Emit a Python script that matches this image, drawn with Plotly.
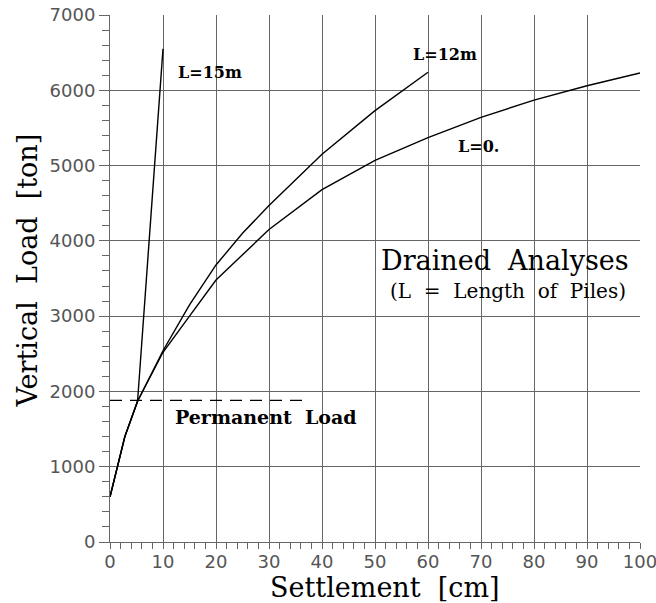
import plotly.graph_objects as go

# Data
l15_x = [0, 2.8, 5.2, 10]
l15_y = [600, 1400, 1870, 6550]

l12_x = [0, 2.8, 5.2, 10, 15, 20, 25, 30, 40, 50, 60]
l12_y = [600, 1400, 1870, 2540, 3150, 3680, 4100, 4470, 5150, 5730, 6240]

l0_x = [0, 2.8, 5.2, 10, 15, 20, 30, 40, 50, 60, 70, 80, 90, 100]
l0_y = [600, 1400, 1870, 2520, 3000, 3480, 4150, 4680, 5070, 5370, 5640, 5870, 6060, 6230]

perm_x = [0, 37.2]
perm_y = [1880, 1880]

x_ticks = list(range(0, 101, 10))
y_ticks = list(range(0, 7001, 1000))

serif = "DejaVu Serif"
line_style = dict(color="black", width=1.4)

fig = go.Figure()
fig.add_trace(go.Scatter(x=l15_x, y=l15_y, mode="lines", line=line_style, showlegend=False))
fig.add_trace(go.Scatter(x=l12_x, y=l12_y, mode="lines", line=line_style, showlegend=False))
fig.add_trace(go.Scatter(x=l0_x, y=l0_y, mode="lines", line=line_style, showlegend=False))
fig.add_trace(go.Scatter(x=perm_x, y=perm_y, mode="lines",
                         line=dict(color="black", width=1.2, dash="12px,8px"), showlegend=False))

annots = [
    dict(x=12.5, y=6240, text="<b>L=15m</b>", xanchor="left", size=16),
    dict(x=56.8, y=6470, text="<b>L=12m</b>", xanchor="left", size=16),
    dict(x=65.3, y=5250, text="<b>L=0.</b>", xanchor="left", size=16),
    dict(x=74.5, y=3745, text="Drained  Analyses", xanchor="center", size=27),
    dict(x=75.0, y=3330, text="(L  =  Length  of  Piles)", xanchor="center", size=20),
    dict(x=29.5, y=1660, text="<b>Permanent  Load</b>", xanchor="center", size=19),
]
for a in annots:
    fig.add_annotation(x=a["x"], y=a["y"], text=a["text"], xanchor=a["xanchor"], yanchor="middle",
                       showarrow=False, font=dict(family=serif, size=a["size"], color="black"))

# Axis titles placed in paper coordinates
fig.add_annotation(xref="paper", yref="paper", x=0.518, y=-0.087, text="Settlement  [cm]",
                   xanchor="center", yanchor="middle", showarrow=False,
                   font=dict(family=serif, size=27, color="black"))
fig.add_annotation(xref="paper", yref="paper", x=-0.155, y=0.515, text="Vertical  Load  [ton]",
                   textangle=-90, xanchor="center", yanchor="middle", showarrow=False,
                   font=dict(family=serif, size=27, color="black"))

axis_common = dict(
    showgrid=True, gridcolor="#666", gridwidth=1,
    showline=True, linecolor="#666", linewidth=1,
    ticks="outside", tickcolor="#666",
    tickfont=dict(family="DejaVu Sans", size=18, color="#555"),
    zeroline=False, automargin=False, ticklabeloverflow="allow",
)

fig.update_xaxes(range=[0, 100], tickvals=x_ticks, ticktext=[str(v) for v in x_ticks], ticklen=6,
                 ticklabelstandoff=-3,
                 minor=dict(dtick=2, ticks="outside", ticklen=6, tickcolor="#666", showgrid=False),
                 **axis_common)
fig.update_yaxes(range=[0, 7000], tickvals=y_ticks, ticktext=[str(v) for v in y_ticks], ticklen=10,
                 minor=dict(dtick=200, ticks="outside", ticklen=7, tickcolor="#666", showgrid=False),
                 **axis_common)

fig.update_layout(
    width=656, height=603,
    margin=dict(l=110, r=16, t=15, b=61),
    paper_bgcolor="white", plot_bgcolor="white",
)

fig.write_html("out.html")
